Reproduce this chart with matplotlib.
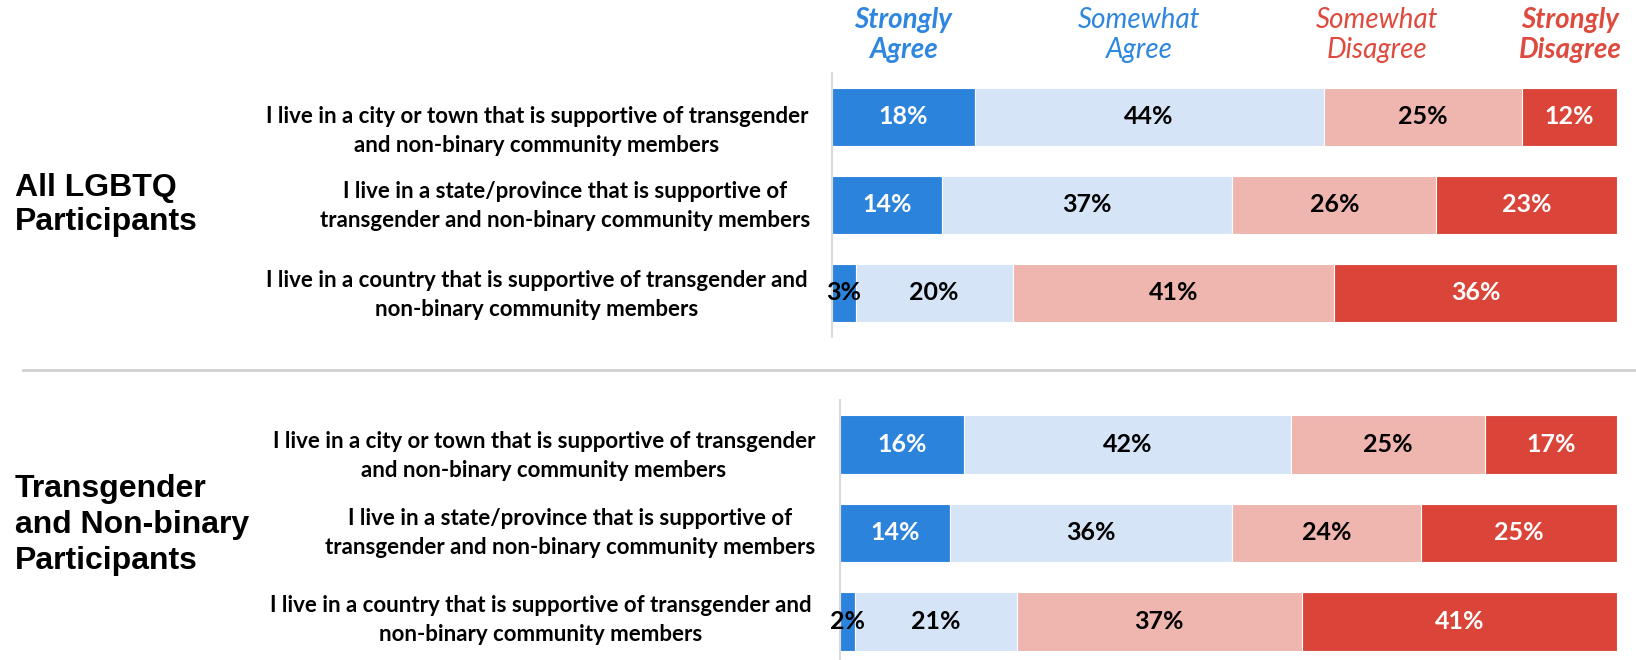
import matplotlib
matplotlib.use("Agg")
import matplotlib.pyplot as plt
from matplotlib import font_manager as fm
import numpy as np

# ---------------- data ----------------
categories = ["Strongly\nAgree", "Somewhat\nAgree", "Somewhat\nDisagree", "Strongly\nDisagree"]
statements = [
    "I live in a city or town that is supportive of transgender\nand non-binary community members",
    "I live in a state/province that is supportive of\ntransgender and non-binary community members",
    "I live in a country that is supportive of transgender and\nnon-binary community members",
]
groups = ["All LGBTQ\nParticipants", "Transgender\nand Non-binary\nParticipants"]
all_lgbtq = [[18, 44, 25, 12], [14, 37, 26, 23], [3, 20, 41, 36]]
trans_nb = [[16, 42, 25, 17], [14, 36, 24, 25], [2, 21, 37, 41]]

seg_colors = ["#2B83DC", "#D5E5F7", "#EFB5AF", "#DB4539"]
label_colors = ["white", "black", "black", "white"]
head_colors = ["#2E86DE", "#2E86DE", "#DE4A3E", "#DE4A3E"]
head_weights = ["bold", "normal", "normal", "bold"]

avail = {f.name for f in fm.fontManager.ttflist}
narrow = "Liberation Sans Narrow" if "Liberation Sans Narrow" in avail else "Lato"
W, H = 1636, 660
fig = plt.figure(figsize=(W / 100, H / 100), dpi=100)


def fx(x):
    return x / W


def fy(y):
    return 1 - y / H


def draw_panel(rect, data, label_pos):
    ax = fig.add_axes(rect)
    n = len(data)
    for i, row in enumerate(data):
        tot = sum(row)
        left = 0.0
        for j, v in enumerate(row):
            w = v / tot * 100
            ax.barh(i, w, left=left, height=0.66, color=seg_colors[j],
                    edgecolor="white", linewidth=0.8)
            ax.text(left + w / 2, i, f"{v}%", ha="center", va="center",
                    fontsize=18, fontweight="bold", family=narrow,
                    color=label_colors[j] if w > 4 else "black")
            left += w
    ax.set_xlim(0, 100)
    ax.set_ylim(n - 0.5, -0.5)
    for s in ["top", "right", "bottom"]:
        ax.spines[s].set_visible(False)
    ax.spines["left"].set_color("#D9D9D9")
    ax.spines["left"].set_linewidth(1.5)
    ax.set_xticks([])
    ax.set_yticks([])
    for (x, y), txt in zip(label_pos, statements):
        fig.text(fx(x), fy(y), txt, ha="center", va="center", fontsize=16,
                 fontweight="bold", family=narrow, linespacing=1.5)
    return ax


draw_panel([fx(832), fy(337), fx(1617) - fx(832), 264 / H], all_lgbtq,
           [(537, 131), (565, 206), (537, 295)])
draw_panel([fx(840), fy(666), fx(1617) - fx(840), 266 / H], trans_nb,
           [(544, 456), (570, 533), (541, 620)])

# headers
head_x = [903, 1139, 1377, 1570]
for x, txt, c, wgt in zip(head_x, categories, head_colors, head_weights):
    fig.text(fx(x), fy(35), txt, ha="center", va="center", fontsize=20,
             style="italic", fontweight=wgt, color=c, family=narrow,
             linespacing=1.2)

# group labels
fig.text(fx(15), fy(205), groups[0], ha="left", va="center", fontsize=23,
         fontweight="bold", family="Liberation Sans", linespacing=1.2)
fig.text(fx(15), fy(525), groups[1], ha="left", va="center", fontsize=23,
         fontweight="bold", family="Liberation Sans", linespacing=1.28)

# separator
fig.add_artist(plt.Line2D([fx(23), 1.0], [fy(370), fy(370)], color="#D0D0D0",
                          linewidth=2))

fig.savefig("out.png", dpi=100)
